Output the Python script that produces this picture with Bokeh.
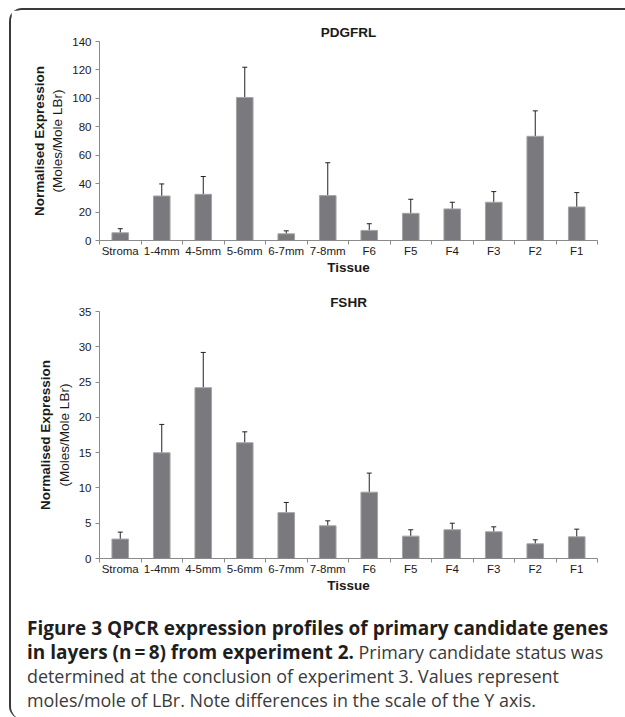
from bokeh.plotting import figure
from bokeh.models import Range1d, FixedTicker, LinearAxis, Whisker, ColumnDataSource, TeeHead, Div
from bokeh.layouts import column
from bokeh.embed import file_html
from bokeh.resources import INLINE

tissues = ["Stroma", "1-4mm", "4-5mm", "5-6mm", "6-7mm", "7-8mm", "F6", "F5", "F4", "F3", "F2", "F1"]
pdgfrl_mean = [5.4, 31.3, 32.5, 100.6, 4.7, 31.6, 7.1, 19.1, 22.2, 26.9, 73.3, 23.6]
pdgfrl_err = [2.9, 8.5, 12.5, 21.3, 2.1, 23.1, 4.7, 9.9, 4.7, 7.5, 17.9, 10.1]
fshr_mean = [2.75, 14.98, 24.2, 16.4, 6.5, 4.63, 9.4, 3.17, 4.07, 3.78, 2.08, 3.07]
fshr_err = [0.99, 4.02, 5.0, 1.55, 1.44, 0.71, 2.7, 0.9, 0.93, 0.71, 0.57, 1.09]
pdgfrl_ticks = [0, 20, 40, 60, 80, 100, 120, 140]
fshr_ticks = [0, 5, 10, 15, 20, 25, 30, 35]

caption_bold = ["Figure 3 QPCR expression profiles of primary candidate genes",
                "in layers (n\u2009=\u20098) from experiment 2."]
caption_plain = [" Primary candidate status was",
                 "determined at the conclusion of experiment 3. Values represent",
                 "moles/mole of LBr. Note differences in the scale of the Y axis."]

FONT = "Liberation Sans"
TXT = "#1a1a1a"
AX = "#8a8a8a"


def make_chart(title, means, errs, yticks, width, height, b_top, b_right, b_bottom):
    n = len(tissues)
    xs = list(range(n))
    src = ColumnDataSource(dict(x=xs, top=means, upper=[m + e for m, e in zip(means, errs)]))
    p = figure(width=width, height=height, x_range=Range1d(-0.5, n - 0.5),
               y_range=Range1d(yticks[0], yticks[-1]),
               output_backend="svg", toolbar_location=None, tools="",
               min_border_left=88, min_border_right=b_right, min_border_top=b_top,
               min_border_bottom=b_bottom)
    p.title.text = title
    p.title.align = "center"
    p.title.text_font = FONT
    p.title.text_font_size = "13.5px"
    p.title.text_font_style = "bold"
    p.title.text_color = TXT
    p.title.standoff = 3
    p.outline_line_color = None
    p.xgrid.visible = False
    p.ygrid.visible = False

    xa = p.xaxis[0]
    xa.ticker = FixedTicker(ticks=xs, minor_ticks=[i - 0.5 for i in range(n + 1)])
    xa.major_label_overrides = {i: t for i, t in enumerate(tissues)}
    xa.major_tick_line_color = None
    xa.major_tick_out = 0
    xa.major_tick_in = 0
    xa.minor_tick_line_color = AX
    xa.minor_tick_out = 4
    xa.minor_tick_in = 0
    xa.axis_line_color = AX
    xa.major_label_text_font = FONT
    xa.major_label_text_font_size = "11.5px"
    xa.major_label_text_color = TXT
    xa.major_label_standoff = 0
    xa.axis_label = "Tissue"
    xa.axis_label_text_font = FONT
    xa.axis_label_text_font_size = "13.5px"
    xa.axis_label_text_font_style = "bold"
    xa.axis_label_text_color = TXT
    xa.axis_label_standoff = 0

    ya = p.yaxis[0]
    ya.ticker = FixedTicker(ticks=yticks)
    ya.axis_line_color = AX
    ya.major_tick_line_color = AX
    ya.major_tick_out = 4
    ya.major_tick_in = 0
    ya.minor_tick_line_color = None
    ya.major_label_text_font = FONT
    ya.major_label_text_font_size = "11.5px"
    ya.major_label_text_color = TXT
    ya.major_label_standoff = 4
    ya.axis_label = "(Moles/Mole LBr)"
    ya.axis_label_text_font = FONT
    ya.axis_label_text_font_size = "13.5px"
    ya.axis_label_text_font_style = "normal"
    ya.axis_label_text_color = TXT
    ya.axis_label_standoff = 4

    outer = LinearAxis(ticker=FixedTicker(ticks=[]), axis_label="Normalised Expression",
                       axis_line_color=None, major_tick_line_color=None, minor_tick_line_color=None,
                       major_tick_out=0, minor_tick_out=0, major_label_standoff=0,
                       axis_label_standoff=1, axis_label_text_font=FONT,
                       axis_label_text_font_size="13.5px", axis_label_text_font_style="bold",
                       axis_label_text_color=TXT)
    p.add_layout(outer, "left")

    p.vbar(x="x", top="top", bottom=0, width=0.4, source=src,
           fill_color="#7a7a7e", line_color="#a4a4a6", line_width=1)
    wh = Whisker(base="x", lower="top", upper="upper", source=src, dimension="height",
                 line_color="#222222", line_width=1,
                 upper_head=TeeHead(size=5, line_color="#222222", line_width=1), lower_head=None)
    p.add_layout(wh)
    return p


p1 = make_chart("PDGFRL", pdgfrl_mean, pdgfrl_err, pdgfrl_ticks, 607, 277, 31, 21, 47)
p2 = make_chart("FSHR", fshr_mean, fshr_err, fshr_ticks, 607, 321, 24, 11, 50)

html = ('<div style="font-family: \'Open Sans\'; font-size: 17.9px; line-height: 24px; color: #3a3a3a; '
        'margin: 3px 0 0 11px; white-space: nowrap;">'
        '<b style="color:#1e1e1e; font-size:19px">' + caption_bold[0] + '</b><br>'
        '<b style="color:#1e1e1e; font-size:19px">' + caption_bold[1] + '</b>' + caption_plain[0] + '<br>'
        + caption_plain[1] + '<br>' + caption_plain[2] + '</div>')
cap = Div(text=html, width=607, height=101)

layout = column(p1, p2, cap, spacing=0,
                styles={"margin": "8px 0 0 9px",
                        "border-left": "2px solid #3a3a3a", "border-top": "2px solid #3a3a3a",
                        "border-radius": "13px 0 0 13px"})

open("out.html", "w").write(file_html(layout, INLINE))
